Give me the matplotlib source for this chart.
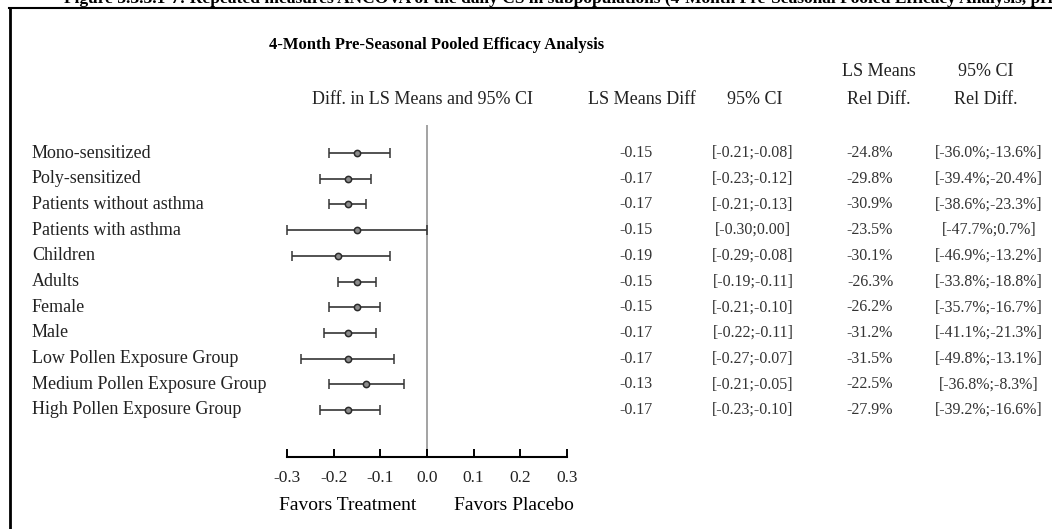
import numpy as np
import matplotlib.pyplot as plt
import matplotlib.transforms as mtransforms
from matplotlib.lines import Line2D

plt.rcParams['font.family'] = ['Liberation Serif', 'DejaVu Serif']

## Données
groups = ["Mono-sensitized", "Poly-sensitized", "Patients without asthma",
          "Patients with asthma", "Children", "Adults", "Female", "Male",
          "Low Pollen Exposure Group", "Medium Pollen Exposure Group",
          "High Pollen Exposure Group"]
ls_diff = [-0.15, -0.17, -0.17, -0.15, -0.19, -0.15, -0.15, -0.17, -0.17, -0.13, -0.17]
ci_low = [-0.21, -0.23, -0.21, -0.30, -0.29, -0.19, -0.21, -0.22, -0.27, -0.21, -0.23]
ci_high = [-0.08, -0.12, -0.13, 0.00, -0.08, -0.11, -0.10, -0.11, -0.07, -0.05, -0.10]
rel_diff = [-24.8, -29.8, -30.9, -23.5, -30.1, -26.3, -26.2, -31.2, -31.5, -22.5, -27.9]
rel_low = [-36.0, -39.4, -38.6, -47.7, -46.9, -33.8, -35.7, -41.1, -49.8, -36.8, -39.2]
rel_high = [-13.6, -20.4, -23.3, 0.7, -13.2, -18.8, -16.7, -21.3, -13.1, -8.3, -16.6]
xticks = [-0.3, -0.2, -0.1, 0.0, 0.1, 0.2, 0.3]

W, H = 1052, 529
fig = plt.figure(figsize=(W / 100, H / 100), dpi=100)

def fx(px):
    return px / W

def fy(py):
    return 1 - py / H

# axe du forest plot (positions en pixels)
ax_top, ax_bot = 125, 457
ax = fig.add_axes([fx(287), fy(ax_bot), fx(567 - 287), (ax_bot - ax_top) / H])
row_h = 25.7
ax.set_xlim(-0.3, 0.3)
ax.set_ylim((ax_bot - 153) / row_h, -(153 - ax_top) / row_h)

rows = np.arange(len(groups))
means = np.array(ls_diff)
lo = np.array(ci_low)
hi = np.array(ci_high)

ax.axvline(0, color='#8a8a8a', lw=1.1, zorder=1)
ax.errorbar(means, rows, xerr=[means - lo, hi - means], fmt='o', ms=4.5,
            mfc='#8c8c8c', mec='#2a2a2a', mew=1.1, ecolor='#353535',
            elinewidth=1.2, capsize=3.8, capthick=1.2, clip_on=False, zorder=3)

for s in ['top', 'right', 'left']:
    ax.spines[s].set_visible(False)
ax.spines['bottom'].set_linewidth(1.5)
ax.set_yticks([])
ax.set_xticks(xticks)
ax.set_xticklabels(["%.1f" % t for t in xticks])
ax.tick_params(axis='x', direction='in', length=6, width=1.4, pad=9,
               labelsize=12.5, labelcolor='#222222')
ax.patch.set_visible(False)

# texte des lignes : x en figure, y en données
trans = mtransforms.blended_transform_factory(fig.transFigure, ax.transData)
for i in rows:
    ax.text(fx(32), i, groups[i], transform=trans, ha='left', va='center',
            fontsize=13, color='#222222')
    ax.text(fx(636), i, "%.2f" % ls_diff[i], transform=trans, ha='center',
            va='center', fontsize=11.5, color='#333333')
    ax.text(fx(753), i, "[%.2f;%.2f]" % (ci_low[i], ci_high[i]), transform=trans,
            ha='center', va='center', fontsize=11.5, color='#333333')
    ax.text(fx(870), i, "%.1f%%" % rel_diff[i], transform=trans, ha='center',
            va='center', fontsize=11.5, color='#333333')
    ax.text(fx(989), i, "[%.1f%%;%.1f%%]" % (rel_low[i], rel_high[i]),
            transform=trans, ha='center', va='center', fontsize=11.5,
            color='#333333')

# titres et en-têtes
fig.text(fx(437), fy(45), "4-Month Pre-Seasonal Pooled Efficacy Analysis",
         ha='center', va='center', fontsize=12, fontweight='bold')
fig.text(fx(422), fy(99), "Diff. in LS Means and 95% CI", ha='center',
         va='center', fontsize=13, color='#222222')
fig.text(fx(642), fy(99), "LS Means Diff", ha='center', va='center',
         fontsize=13, color='#222222')
fig.text(fx(755), fy(99), "95% CI", ha='center', va='center',
         fontsize=13, color='#222222')
fig.text(fx(879), fy(72), "LS Means", ha='center', va='center',
         fontsize=13, color='#222222')
fig.text(fx(879), fy(99), "Rel Diff.", ha='center', va='center',
         fontsize=13, color='#222222')
fig.text(fx(986), fy(72), "95% CI", ha='center', va='center',
         fontsize=13, color='#222222')
fig.text(fx(986), fy(99), "Rel Diff.", ha='center', va='center',
         fontsize=13, color='#222222')
fig.text(fx(348), fy(506), "Favors Treatment", ha='center', va='center',
         fontsize=14, color='black')
fig.text(fx(514), fy(506), "Favors Placebo", ha='center', va='center',
         fontsize=14, color='black')

# légende de la figure, coupée en haut comme sur l'original
fig.text(fx(64), fy(3), "Figure 3.3.3.1-7: Repeated measures ANCOVA of the daily CS "
         "in subpopulations (4-Month Pre-Seasonal Pooled Efficacy Analysis, primary analysis)",
         ha='left', va='baseline', fontsize=12.5, fontweight='bold')

# cadre
fig.add_artist(Line2D([fx(10), fx(10)], [fy(8), 0], color='black', lw=2))
fig.add_artist(Line2D([fx(9), 1], [fy(8), fy(8)], color='black', lw=1.5))

fig.savefig("out.png", dpi=100, facecolor='white')
